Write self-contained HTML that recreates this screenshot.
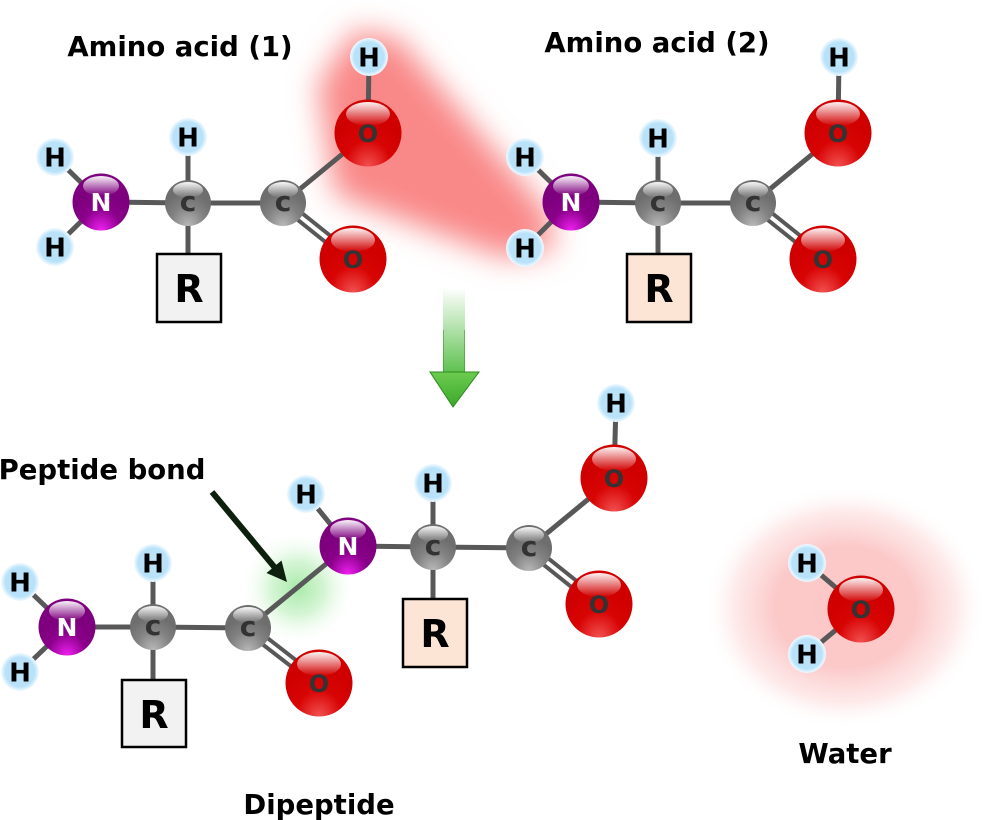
<!DOCTYPE html>
<html><head><meta charset="utf-8"><style>
html,body{margin:0;padding:0;background:#fff;}
svg{display:block;}
.lbl{font-family:"DejaVu Sans","Liberation Sans",sans-serif;font-weight:bold;font-size:27.5px;fill:#000;text-anchor:middle;}
.h{font-family:"DejaVu Sans","Liberation Sans",sans-serif;font-weight:bold;font-size:26px;fill:#000;text-anchor:middle;}
.n{font-family:"DejaVu Sans","Liberation Sans",sans-serif;font-weight:bold;font-size:25px;fill:#fff;text-anchor:middle;}
.c{font-family:"DejaVu Sans","Liberation Sans",sans-serif;font-weight:bold;font-size:28px;fill:#333;text-anchor:middle;}
.o{font-family:"DejaVu Sans","Liberation Sans",sans-serif;font-weight:bold;font-size:24px;fill:#333;text-anchor:middle;}
.r{font-family:"DejaVu Sans","Liberation Sans",sans-serif;font-weight:bold;font-size:38px;fill:#000;text-anchor:middle;}
.b{stroke:#585858;stroke-width:5;fill:none;}
.b2{stroke:#585858;stroke-width:4;fill:none;}
</style></head><body>
<svg width="990" height="820" viewBox="0 0 990 820" xmlns="http://www.w3.org/2000/svg">
<defs>
<filter id="blur" x="-30%" y="-30%" width="160%" height="160%"><feGaussianBlur stdDeviation="15"/></filter>
<radialGradient id="gH" cx="50%" cy="50%" r="50%"><stop offset="0" stop-color="#bde4fa"/><stop offset="0.78" stop-color="#b8e2f9"/><stop offset="0.92" stop-color="#dff2fd"/><stop offset="1" stop-color="#eef9ff"/></radialGradient>
<radialGradient id="gO" cx="50%" cy="88%" r="60%" fx="50%" fy="100%"><stop offset="0" stop-color="#f25050"/><stop offset="0.55" stop-color="#d80404"/><stop offset="1" stop-color="#d00000"/></radialGradient>
<radialGradient id="gN" cx="50%" cy="90%" r="55%" fx="50%" fy="100%"><stop offset="0" stop-color="#f020f0"/><stop offset="0.6" stop-color="#8a008a"/><stop offset="1" stop-color="#7e007e"/></radialGradient>
<radialGradient id="gC" cx="50%" cy="88%" r="60%" fx="50%" fy="100%"><stop offset="0" stop-color="#b8b8b8"/><stop offset="0.6" stop-color="#828282"/><stop offset="1" stop-color="#6e6e6e"/></radialGradient>
<linearGradient id="hl" x1="0" y1="0" x2="0" y2="1"><stop offset="0" stop-color="#fff" stop-opacity="0.95"/><stop offset="1" stop-color="#fff" stop-opacity="0"/></linearGradient>
<radialGradient id="gGreen" cx="50%" cy="50%" r="50%"><stop offset="0" stop-color="#98e698" stop-opacity="0.85"/><stop offset="0.45" stop-color="#b0ecb0" stop-opacity="0.55"/><stop offset="1" stop-color="#ffffff" stop-opacity="0"/></radialGradient>
<radialGradient id="gWater" cx="50%" cy="50%" r="50%"><stop offset="0" stop-color="#fcc6c6"/><stop offset="0.5" stop-color="#fcc9c9"/><stop offset="0.78" stop-color="#fde0e0" stop-opacity="0.7"/><stop offset="1" stop-color="#ffffff" stop-opacity="0"/></radialGradient>
<linearGradient id="shaft" x1="0" y1="0" x2="0" y2="1"><stop offset="0" stop-color="#ffffff"/><stop offset="1" stop-color="#5cc04c"/></linearGradient>
<linearGradient id="head" x1="0" y1="0" x2="0" y2="1"><stop offset="0" stop-color="#6ccc50"/><stop offset="1" stop-color="#3aa82a"/></linearGradient>
</defs>

<!-- glows -->
<path d="M355,30 L398,38 L548,212 L555,250 L505,258 L335,195 L318,85 Z" fill="#f98888" filter="url(#blur)"/>
<circle cx="298" cy="588" r="58" fill="url(#gGreen)"/>
<ellipse cx="845" cy="607" rx="142" ry="122" fill="url(#gWater)"/>

<!-- green arrow -->
<rect x="443" y="288" width="22" height="86" fill="url(#shaft)"/>
<line x1="443.5" y1="330" x2="443.5" y2="373" stroke="#3a9a2a" stroke-width="1" stroke-opacity="0.6"/>
<line x1="464.5" y1="330" x2="464.5" y2="373" stroke="#3a9a2a" stroke-width="1" stroke-opacity="0.6"/>
<polygon points="430,372 479,372 453,407" fill="url(#head)" stroke="#2d8a1d" stroke-width="1"/>

<!-- black arrow -->
<line x1="212" y1="492" x2="276" y2="569" stroke="#0d1f0d" stroke-width="6"/>
<polygon points="266.5,573 281.5,560.5 287,582" fill="#0d1f0d"/>

<!-- bonds molecule 1 -->
<line class="b" x1="55" y1="157" x2="101" y2="202"/>
<line class="b" x1="55" y1="247" x2="101" y2="202"/>
<line class="b" x1="101" y1="202" x2="188" y2="203"/>
<line class="b" x1="188" y1="203" x2="188" y2="137"/>
<line class="b" x1="188" y1="203" x2="188" y2="254"/>
<line class="b" x1="188" y1="203" x2="283" y2="203"/>
<line class="b" x1="283" y1="203" x2="368" y2="133"/>
<line class="b" x1="368" y1="133" x2="369" y2="57"/>
<line class="b2" x1="280.5" y1="206.1" x2="350.5" y2="262.1"/>
<line class="b2" x1="285.5" y1="199.9" x2="355.5" y2="255.9"/>
<!-- bonds molecule 2 -->
<line class="b" x1="525" y1="157" x2="571" y2="202"/>
<line class="b" x1="525" y1="248" x2="571" y2="202"/>
<line class="b" x1="571" y1="202" x2="658" y2="203"/>
<line class="b" x1="658" y1="203" x2="658" y2="138"/>
<line class="b" x1="658" y1="203" x2="658" y2="254"/>
<line class="b" x1="658" y1="203" x2="753" y2="203"/>
<line class="b" x1="753" y1="203" x2="838" y2="133"/>
<line class="b" x1="838" y1="133" x2="839" y2="57"/>
<line class="b2" x1="750.5" y1="206.1" x2="820.5" y2="262.1"/>
<line class="b2" x1="755.5" y1="199.9" x2="825.5" y2="255.9"/>
<!-- bonds dipeptide -->
<line class="b" x1="20" y1="582" x2="67" y2="627"/>
<line class="b" x1="20" y1="672" x2="67" y2="627"/>
<line class="b" x1="67" y1="627" x2="153" y2="627"/>
<line class="b" x1="153" y1="627" x2="153" y2="563"/>
<line class="b" x1="153" y1="627" x2="153" y2="680"/>
<line class="b" x1="153" y1="627" x2="248" y2="628"/>
<line class="b2" x1="245.5" y1="631.1" x2="316.5" y2="686.1"/>
<line class="b2" x1="250.5" y1="624.9" x2="321.5" y2="679.9"/>
<line class="b" x1="248" y1="628" x2="348" y2="546"/>
<line class="b" x1="348" y1="546" x2="306" y2="494"/>
<line class="b" x1="348" y1="546" x2="433" y2="547"/>
<line class="b" x1="433" y1="547" x2="433" y2="483"/>
<line class="b" x1="433" y1="547" x2="433" y2="599"/>
<line class="b" x1="433" y1="547" x2="529" y2="548"/>
<line class="b" x1="529" y1="548" x2="614" y2="478"/>
<line class="b" x1="614" y1="478" x2="616" y2="403"/>
<line class="b2" x1="526.5" y1="551.1" x2="596.5" y2="607.1"/>
<line class="b2" x1="531.5" y1="544.9" x2="601.5" y2="600.9"/>
<!-- water bonds -->
<line class="b" x1="807" y1="563" x2="861" y2="609"/>
<line class="b" x1="807" y1="654" x2="861" y2="609"/>

<!-- R boxes -->
<rect x="157" y="254" width="64" height="68" fill="#f2f2f2" stroke="#000" stroke-width="2.5"/>
<text class="r" x="189" y="302">R</text>
<rect x="627" y="254" width="64" height="68" fill="#fde5d6" stroke="#000" stroke-width="2.5"/>
<text class="r" x="659" y="302">R</text>
<rect x="122" y="680" width="64" height="67" fill="#f2f2f2" stroke="#000" stroke-width="2.5"/>
<text class="r" x="154" y="728">R</text>
<rect x="403" y="599" width="64" height="68" fill="#fde5d6" stroke="#000" stroke-width="2.5"/>
<text class="r" x="435" y="647">R</text>

<!-- H atoms -->
<g transform="translate(55,157)"><circle r="19" fill="url(#gH)"/><text class="h" y="9.5">H</text></g>
<g transform="translate(55,247)"><circle r="19" fill="url(#gH)"/><text class="h" y="9.5">H</text></g>
<g transform="translate(188,137)"><circle r="19" fill="url(#gH)"/><text class="h" y="9.5">H</text></g>
<g transform="translate(369,57)"><circle r="19" fill="url(#gH)"/><text class="h" y="9.5">H</text></g>
<g transform="translate(525,157)"><circle r="19" fill="url(#gH)"/><text class="h" y="9.5">H</text></g>
<g transform="translate(525,248)"><circle r="19" fill="url(#gH)"/><text class="h" y="9.5">H</text></g>
<g transform="translate(658,138)"><circle r="19" fill="url(#gH)"/><text class="h" y="9.5">H</text></g>
<g transform="translate(839,57)"><circle r="19" fill="url(#gH)"/><text class="h" y="9.5">H</text></g>
<g transform="translate(20,582)"><circle r="19" fill="url(#gH)"/><text class="h" y="9.5">H</text></g>
<g transform="translate(20,672)"><circle r="19" fill="url(#gH)"/><text class="h" y="9.5">H</text></g>
<g transform="translate(153,563)"><circle r="19" fill="url(#gH)"/><text class="h" y="9.5">H</text></g>
<g transform="translate(306,494)"><circle r="19" fill="url(#gH)"/><text class="h" y="9.5">H</text></g>
<g transform="translate(433,483)"><circle r="19" fill="url(#gH)"/><text class="h" y="9.5">H</text></g>
<g transform="translate(616,403)"><circle r="19" fill="url(#gH)"/><text class="h" y="9.5">H</text></g>
<g transform="translate(807,563)"><circle r="19" fill="url(#gH)"/><text class="h" y="9.5">H</text></g>
<g transform="translate(807,654)"><circle r="19" fill="url(#gH)"/><text class="h" y="9.5">H</text></g>

<!-- N atoms -->
<g transform="translate(101,202)"><circle r="28.5" fill="url(#gN)"/><ellipse cy="-16" rx="18" ry="10" fill="url(#hl)"/><text class="n" y="9">N</text></g>
<g transform="translate(571,202)"><circle r="28.5" fill="url(#gN)"/><ellipse cy="-16" rx="18" ry="10" fill="url(#hl)"/><text class="n" y="9">N</text></g>
<g transform="translate(67,627)"><circle r="28.5" fill="url(#gN)"/><ellipse cy="-16" rx="18" ry="10" fill="url(#hl)"/><text class="n" y="9">N</text></g>
<g transform="translate(348,546)"><circle r="28.5" fill="url(#gN)"/><ellipse cy="-16" rx="18" ry="10" fill="url(#hl)"/><text class="n" y="9">N</text></g>

<!-- C atoms -->
<g transform="translate(188,203)"><circle r="23" fill="url(#gC)"/><ellipse cy="-13" rx="15" ry="8" fill="url(#hl)"/><text class="c" y="8">c</text></g>
<g transform="translate(283,203)"><circle r="23" fill="url(#gC)"/><ellipse cy="-13" rx="15" ry="8" fill="url(#hl)"/><text class="c" y="8">c</text></g>
<g transform="translate(658,203)"><circle r="23" fill="url(#gC)"/><ellipse cy="-13" rx="15" ry="8" fill="url(#hl)"/><text class="c" y="8">c</text></g>
<g transform="translate(753,203)"><circle r="23" fill="url(#gC)"/><ellipse cy="-13" rx="15" ry="8" fill="url(#hl)"/><text class="c" y="8">c</text></g>
<g transform="translate(153,627)"><circle r="23" fill="url(#gC)"/><ellipse cy="-13" rx="15" ry="8" fill="url(#hl)"/><text class="c" y="8">c</text></g>
<g transform="translate(248,628)"><circle r="23" fill="url(#gC)"/><ellipse cy="-13" rx="15" ry="8" fill="url(#hl)"/><text class="c" y="8">c</text></g>
<g transform="translate(433,547)"><circle r="23" fill="url(#gC)"/><ellipse cy="-13" rx="15" ry="8" fill="url(#hl)"/><text class="c" y="8">c</text></g>
<g transform="translate(529,548)"><circle r="23" fill="url(#gC)"/><ellipse cy="-13" rx="15" ry="8" fill="url(#hl)"/><text class="c" y="8">c</text></g>

<!-- O atoms -->
<g transform="translate(368,133)"><circle r="33.5" fill="url(#gO)"/><ellipse cy="-19" rx="22" ry="12" fill="url(#hl)"/><text class="o" y="9">O</text></g>
<g transform="translate(353,259)"><circle r="33.5" fill="url(#gO)"/><ellipse cy="-19" rx="22" ry="12" fill="url(#hl)"/><text class="o" y="9">O</text></g>
<g transform="translate(838,133)"><circle r="33.5" fill="url(#gO)"/><ellipse cy="-19" rx="22" ry="12" fill="url(#hl)"/><text class="o" y="9">O</text></g>
<g transform="translate(823,259)"><circle r="33.5" fill="url(#gO)"/><ellipse cy="-19" rx="22" ry="12" fill="url(#hl)"/><text class="o" y="9">O</text></g>
<g transform="translate(319,683)"><circle r="33.5" fill="url(#gO)"/><ellipse cy="-19" rx="22" ry="12" fill="url(#hl)"/><text class="o" y="9">O</text></g>
<g transform="translate(614,478)"><circle r="33.5" fill="url(#gO)"/><ellipse cy="-19" rx="22" ry="12" fill="url(#hl)"/><text class="o" y="9">O</text></g>
<g transform="translate(599,604)"><circle r="33.5" fill="url(#gO)"/><ellipse cy="-19" rx="22" ry="12" fill="url(#hl)"/><text class="o" y="9">O</text></g>
<g transform="translate(861,609)"><circle r="33.5" fill="url(#gO)"/><ellipse cy="-19" rx="22" ry="12" fill="url(#hl)"/><text class="o" y="9">O</text></g>

<!-- labels -->
<text class="lbl" x="180" y="56">Amino acid (1)</text>
<text class="lbl" x="657" y="52">Amino acid (2)</text>
<text class="lbl" x="102" y="479">Peptide bond</text>
<text class="lbl" x="319" y="814">Dipeptide</text>
<text class="lbl" x="845" y="763">Water</text>
</svg>
</body></html>
